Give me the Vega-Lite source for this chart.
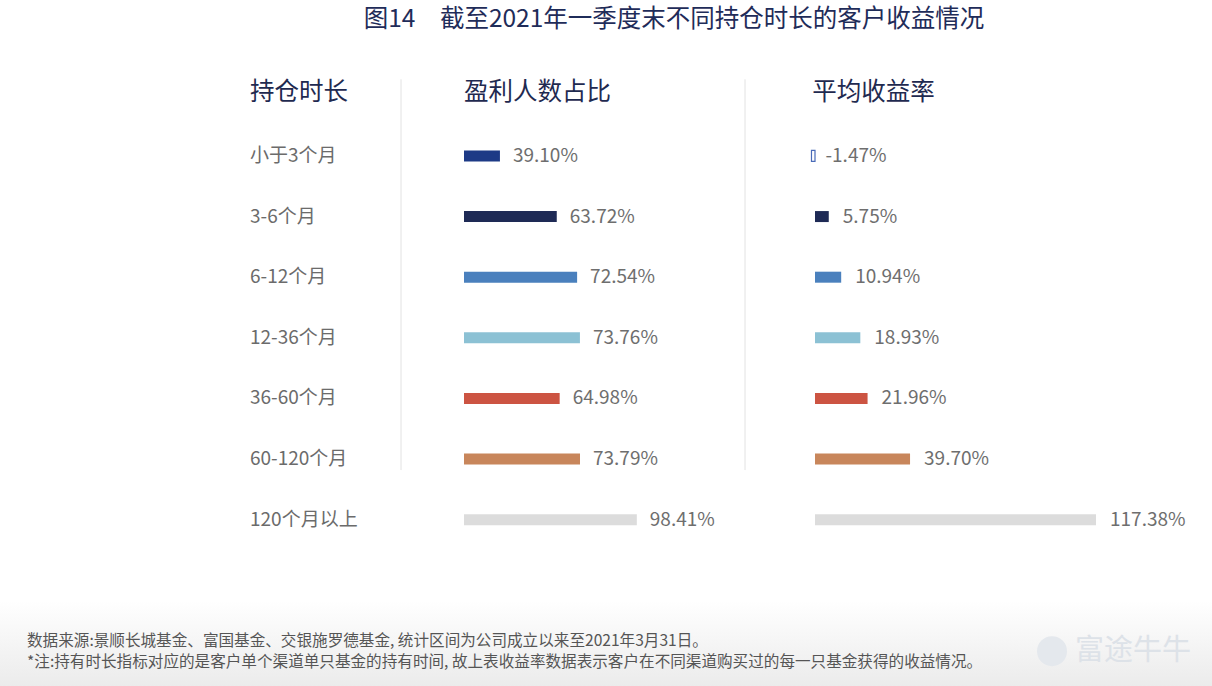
{
  "$schema": "https://vega.github.io/schema/vega-lite/v6.json",
  "padding": {"top": 6, "left": 0, "right": 0, "bottom": 0},
  "background": "#ffffff",
  "title": {
    "text": "图14　截至2021年一季度末不同持仓时长的客户收益情况",
    "fontSize": 24.5, "font": "Noto Sans CJK SC", "fontWeight": "normal",
    "color": "#1f2c59", "anchor": "middle", "dx": 67, "offset": 33
  },
  "datasets": {
    "rows": [
      {"时长": "小于3个月", "盈利人数占比": 0.3910, "平均收益率": -0.0147},
      {"时长": "3-6个月", "盈利人数占比": 0.6372, "平均收益率": 0.0575},
      {"时长": "6-12个月", "盈利人数占比": 0.7254, "平均收益率": 0.1094},
      {"时长": "12-36个月", "盈利人数占比": 0.7376, "平均收益率": 0.1893},
      {"时长": "36-60个月", "盈利人数占比": 0.6498, "平均收益率": 0.2196},
      {"时长": "60-120个月", "盈利人数占比": 0.7379, "平均收益率": 0.3970},
      {"时长": "120个月以上", "盈利人数占比": 0.9841, "平均收益率": 1.1738}
    ],
    "notes": [
      {"line": "1", "text": "数据来源:景顺长城基金、富国基金、交银施罗德基金, 统计区间为公司成立以来至2021年3月31日。"},
      {"line": "2", "text": "*注:持有时长指标对应的是客户单个渠道单只基金的持有时间, 故上表收益率数据表示客户在不同渠道购买过的每一只基金获得的收益情况。"}
    ]
  },
  "spacing": 0,
  "resolve": {"scale": {"x": "independent", "y": "independent", "color": "independent"}},
  "vconcat": [
    {
      "spacing": 0,
      "resolve": {"scale": {"x": "independent", "y": "independent", "color": "independent"}},
      "hconcat": [
        {
          "width": 400, "height": 485,
          "layer": [
            {
              "data": {"name": "rows"},
              "mark": {"type": "text", "align": "left", "baseline": "middle", "fontSize": 19, "color": "#6b6b6b", "font": "Noto Sans CJK SC"},
              "encoding": {
                "x": {"datum": 62.5, "type": "quantitative", "scale": {"domain": [0, 100], "nice": false, "zero": false}, "axis": null},
                "y": {"field": "时长", "type": "nominal", "axis": null, "scale": {"type": "band", "domain": ["持仓时长", "小于3个月", "3-6个月", "6-12个月", "12-36个月", "36-60个月", "60-120个月", "120个月以上"], "paddingInner": 0, "paddingOuter": 0}},
                "text": {"field": "时长", "type": "nominal"}
              }
            },
            {
              "data": {"values": [{}]},
              "mark": {"type": "text", "align": "left", "baseline": "middle", "fontSize": 24.5, "color": "#1f2a50", "dy": -2, "font": "Noto Sans CJK SC"},
              "encoding": {
                "x": {"datum": 62.5, "type": "quantitative"},
                "y": {"datum": "持仓时长", "type": "nominal"},
                "text": {"value": "持仓时长"}
              }
            }
          ]
        },
        {
          "width": 343, "height": 485,
          "layer": [
            {
              "data": {"name": "rows"},
              "mark": {"type": "bar", "height": 11},
              "encoding": {
                "x": {"field": "盈利人数占比", "type": "quantitative", "scale": {"domain": [-0.0377, 1.4485], "zero": false, "nice": false}, "axis": null},
                "x2": {"datum": 0.2353},
                "y": {"field": "时长", "type": "nominal", "axis": null, "scale": {"type": "band", "domain": ["持仓时长", "小于3个月", "3-6个月", "6-12个月", "12-36个月", "36-60个月", "60-120个月", "120个月以上"], "paddingInner": 0, "paddingOuter": 0}},
                "color": {"field": "时长", "type": "nominal", "legend": null, "scale": {"domain": ["小于3个月", "3-6个月", "6-12个月", "12-36个月", "36-60个月", "60-120个月", "120个月以上"], "range": ["#1d3a86", "#1e2a55", "#4a80bd", "#8cc1d4", "#cc5442", "#c8865b", "#dcdcdc"]}}
              }
            },
            {
              "data": {"name": "rows"},
              "mark": {"type": "text", "align": "left", "baseline": "middle", "dx": 13, "fontSize": 19, "color": "#6e6e6e", "font": "Noto Sans CJK SC"},
              "encoding": {
                "x": {"field": "盈利人数占比", "type": "quantitative"},
                "y": {"field": "时长", "type": "nominal"},
                "text": {"field": "盈利人数占比", "type": "quantitative", "format": ".2%"}
              }
            },
            {
              "data": {"values": [{}]},
              "mark": {"type": "text", "align": "left", "baseline": "middle", "fontSize": 24.5, "color": "#1f2a50", "dy": -2, "font": "Noto Sans CJK SC"},
              "encoding": {
                "x": {"datum": 0.2353, "type": "quantitative"},
                "y": {"datum": "持仓时长", "type": "nominal"},
                "text": {"value": "盈利人数占比"}
              }
            },
            {
              "data": {"values": [{}]},
              "mark": {"type": "rule", "color": "#e2e2e2", "strokeWidth": 1, "yOffset": -16, "y2Offset": 11},
              "encoding": {
                "x": {"datum": -0.0377, "type": "quantitative"},
                "y": {"datum": "持仓时长", "type": "nominal"},
                "y2": {"datum": "60-120个月"}
              }
            }
          ]
        },
        {
          "width": 469, "height": 485,
          "layer": [
            {
              "data": {"name": "rows"},
              "mark": {"type": "bar", "height": 11, "strokeWidth": 1.2},
              "encoding": {
                "x": {"field": "平均收益率", "type": "quantitative", "scale": {"domain": [-0.2924, 1.6667], "zero": false, "nice": false}, "axis": null},
                "x2": {"datum": 0},
                "y": {"field": "时长", "type": "nominal", "axis": null, "scale": {"type": "band", "domain": ["持仓时长", "小于3个月", "3-6个月", "6-12个月", "12-36个月", "36-60个月", "60-120个月", "120个月以上"], "paddingInner": 0, "paddingOuter": 0}},
                "color": {"field": "时长", "type": "nominal", "legend": null, "scale": {"domain": ["小于3个月", "3-6个月", "6-12个月", "12-36个月", "36-60个月", "60-120个月", "120个月以上"], "range": ["#ffffff", "#1e2a55", "#4a80bd", "#8cc1d4", "#cc5442", "#c8865b", "#dcdcdc"]}},
                "stroke": {"condition": {"test": "datum['平均收益率'] < 0", "value": "#4a6bb8"}, "value": "transparent"}
              }
            },
            {
              "data": {"name": "rows"},
              "mark": {"type": "text", "align": "left", "baseline": "middle", "dx": 14, "fontSize": 19, "color": "#6e6e6e", "font": "Noto Sans CJK SC"},
              "encoding": {
                "x": {"field": "平均收益率", "type": "quantitative"},
                "y": {"field": "时长", "type": "nominal"},
                "text": {"field": "平均收益率", "type": "quantitative", "format": ".2%"}
              }
            },
            {
              "data": {"values": [{}]},
              "mark": {"type": "text", "align": "left", "baseline": "middle", "fontSize": 24.5, "color": "#1f2a50", "dy": -2, "font": "Noto Sans CJK SC"},
              "encoding": {
                "x": {"datum": -0.012, "type": "quantitative"},
                "y": {"datum": "持仓时长", "type": "nominal"},
                "text": {"value": "平均收益率"}
              }
            },
            {
              "data": {"values": [{}]},
              "mark": {"type": "rule", "color": "#e2e2e2", "strokeWidth": 1, "yOffset": -16, "y2Offset": 11},
              "encoding": {
                "x": {"datum": -0.2924, "type": "quantitative"},
                "y": {"datum": "持仓时长", "type": "nominal"},
                "y2": {"datum": "60-120个月"}
              }
            }
          ]
        }
      ]
    },
    {
      "width": 1212, "height": 137,
      "layer": [
        {
          "data": {"values": [{}]},
          "mark": {"type": "rect", "color": {"gradient": "linear", "x1": 0, "y1": 0, "x2": 0, "y2": 1, "stops": [{"offset": 0, "color": "#ffffff"}, {"offset": 0.37, "color": "#ffffff"}, {"offset": 1, "color": "#ebebeb"}]}},
          "encoding": {}
        },
        {
          "data": {"name": "notes"},
          "mark": {"type": "text", "align": "left", "baseline": "middle", "fontSize": 15.6, "color": "#555555", "font": "Noto Sans CJK SC"},
          "encoding": {
            "x": {"datum": 2.23, "type": "quantitative", "scale": {"domain": [0, 100], "nice": false, "zero": false}, "axis": null},
            "y": {"field": "line", "type": "ordinal", "axis": null, "scale": {"type": "band", "domain": ["a", "b", "c", "1", "2"], "paddingInner": 0, "paddingOuter": 0.762, "align": 0.537}},
            "text": {"field": "text", "type": "nominal"}
          }
        },
        {
          "data": {"values": [{}]},
          "mark": {"type": "point", "shape": "circle", "filled": true, "size": 900, "color": "#e4e8ed", "opacity": 1},
          "encoding": {
            "x": {"datum": 86.8, "type": "quantitative"},
            "y": {"datum": "1", "type": "ordinal", "bandPosition": 1}
          }
        },
        {
          "data": {"values": [{}]},
          "mark": {"type": "text", "align": "left", "baseline": "middle", "fontSize": 29, "color": "#dde2e8", "font": "Noto Sans CJK SC"},
          "encoding": {
            "x": {"datum": 88.7, "type": "quantitative"},
            "y": {"datum": "1", "type": "ordinal", "bandPosition": 1},
            "text": {"value": "富途牛牛"}
          }
        }
      ]
    }
  ],
  "config": {
    "view": {"stroke": null},
    "font": "Noto Sans CJK SC",
    "locale": {"number": {"decimal": ".", "thousands": ",", "grouping": [3], "currency": ["", ""], "minus": "-"}}
  }
}
